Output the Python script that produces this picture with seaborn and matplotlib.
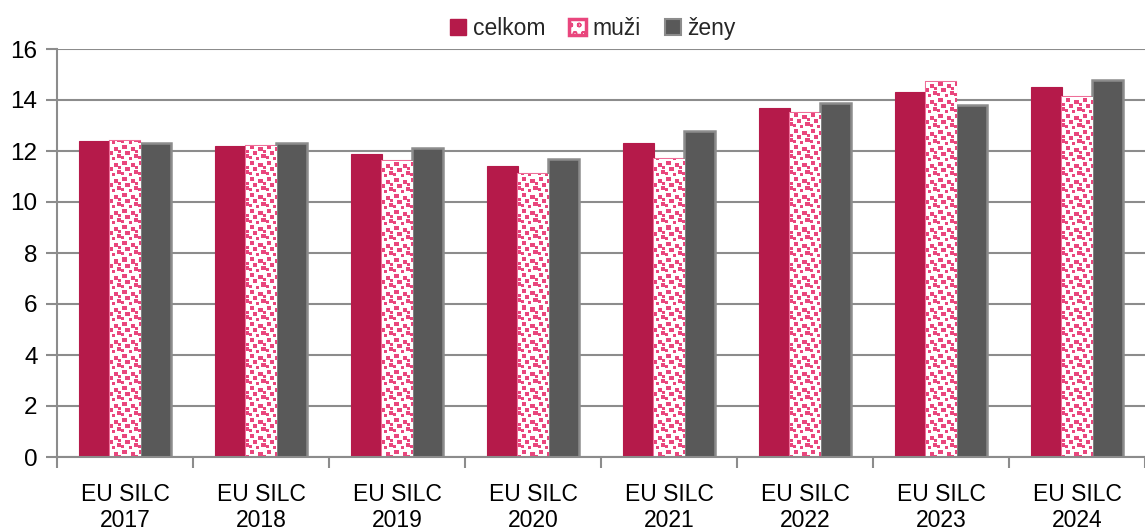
import numpy as np
import pandas as pd
import matplotlib
matplotlib.use("Agg")
import matplotlib.pyplot as plt
from matplotlib.patches import Rectangle
import seaborn as sns

# Data
roky = ["EU SILC\n2017", "EU SILC\n2018", "EU SILC\n2019", "EU SILC\n2020",
        "EU SILC\n2021", "EU SILC\n2022", "EU SILC\n2023", "EU SILC\n2024"]
skupiny = ["celkom", "muži", "ženy"]
celkom = [12.4, 12.2, 11.9, 11.4, 12.3, 13.7, 14.3, 14.5]
muzi = [12.4, 12.2, 11.6, 11.1, 11.7, 13.5, 14.7, 14.1]
zeny = [12.3, 12.3, 12.1, 11.7, 12.8, 13.9, 13.8, 14.8]
y_ticks = [0, 2, 4, 6, 8, 10, 12, 14, 16]

df = pd.DataFrame({
    "rok": roky * 3,
    "skupina": [skupiny[0]] * 8 + [skupiny[1]] * 8 + [skupiny[2]] * 8,
    "hodnota": celkom + muzi + zeny,
})

C_CELKOM = "#B51A4A"
C_MUZI = "#E9467D"
C_MUZI_EDGE = "#EE6E98"
C_ZENY = "#595959"
C_GRID = "#8C8C8C"
FS = 16.5

sns.set_theme(style="white")
plt.rcParams["font.family"] = ["Liberation Sans", "DejaVu Sans"]

W, H, DPI = 1145, 530, 100
fig = plt.figure(figsize=(W / DPI, H / DPI), dpi=DPI)
ax_l, ax_b, ax_r, ax_t = 57 / W, 1 - 457 / H, 1.0, 1 - 49 / H
ax = fig.add_axes([ax_l, ax_b, ax_r - ax_l, ax_t - ax_b])

sns.barplot(data=df, x="rok", y="hodnota", hue="skupina", order=roky,
            hue_order=skupiny, palette=[C_CELKOM, C_MUZI, C_ZENY],
            width=0.68, gap=0, saturation=1, legend=False, ax=ax, zorder=3)

ax.set_xlim(-0.5, len(roky) - 0.5)
ax.set_ylim(0, 16)
ax.set_yticks(y_ticks)
ax.set_xlabel("")
ax.set_ylabel("")

# Confetti texture for the "muži" bars
tile = np.zeros((16, 16), dtype=bool)
for (r, c, s) in [(1, 1, 4), (3, 9, 4), (7, 4, 4), (10, 12, 4), (12, 0, 3),
                  (6, 13, 3), (13, 7, 3)]:
    tile[r:r + s, c:c + s] = True
pw = int(round((ax_r - ax_l) * W))
ph = int(round((ax_t - ax_b) * H))
mask = np.tile(tile, (ph // 16 + 1, pw // 16 + 1))[:ph, :pw]
tex = np.ones((ph, pw, 4))
tex[mask] = matplotlib.colors.to_rgba(C_MUZI)

celkom_bars, muzi_bars, zeny_bars = ax.containers
for bar in celkom_bars:
    bar.set_edgecolor(C_CELKOM)
    bar.set_linewidth(0.8)
for bar in zeny_bars:
    bar.set_edgecolor(C_GRID)
    bar.set_linewidth(1.8)
for bar in muzi_bars:
    bar.set_facecolor("white")
    bar.set_edgecolor(C_MUZI_EDGE)
    bar.set_linewidth(1.5)
    im = ax.imshow(tex, extent=(-0.5, len(roky) - 0.5, 0, 16), origin="upper",
                   aspect="auto", interpolation="nearest", zorder=3.5)
    im.set_clip_path(bar)

ax.set_xlim(-0.5, len(roky) - 0.5)
ax.set_ylim(0, 16)

# Grid and axes
ax.yaxis.grid(True, color=C_GRID, linewidth=1.5, zorder=0)
ax.set_axisbelow(True)
for side in ["top", "right"]:
    ax.spines[side].set_visible(False)
for side in ["left", "bottom"]:
    ax.spines[side].set_color(C_GRID)
    ax.spines[side].set_linewidth(1.5)
    ax.spines[side].set_zorder(4)

ax.tick_params(axis="y", which="major", direction="out", length=8, width=1.5,
               color=C_GRID, labelsize=FS + 1, labelcolor="black", left=True, pad=6)
ax.set_xticks(np.arange(len(roky)))
ax.set_xticklabels(roky, fontsize=FS, linespacing=1.15)
ax.tick_params(axis="x", which="major", length=0, pad=19, labelcolor="black")
ax.set_xticks(np.arange(len(roky) + 1) - 0.5, minor=True)
ax.tick_params(axis="x", which="minor", direction="out", length=8, width=1.5,
               color=C_GRID, bottom=True)

# Legend
handles = [
    Rectangle((0, 0), 1, 1, facecolor=C_CELKOM, edgecolor=C_CELKOM),
    Rectangle((0, 0), 1, 1, facecolor="white", edgecolor=C_MUZI, linewidth=2.5,
              hatch="oo"),
    Rectangle((0, 0), 1, 1, facecolor=C_ZENY, edgecolor=C_GRID, linewidth=1.5),
]
leg = fig.legend(handles, skupiny, loc="center", bbox_to_anchor=(593 / W, 1 - 29 / H),
                 ncol=3, frameon=False, fontsize=FS, handlelength=0.7,
                 handleheight=0.7, handletextpad=0.3, columnspacing=1.05)

fig.savefig("out.png", dpi=DPI)
